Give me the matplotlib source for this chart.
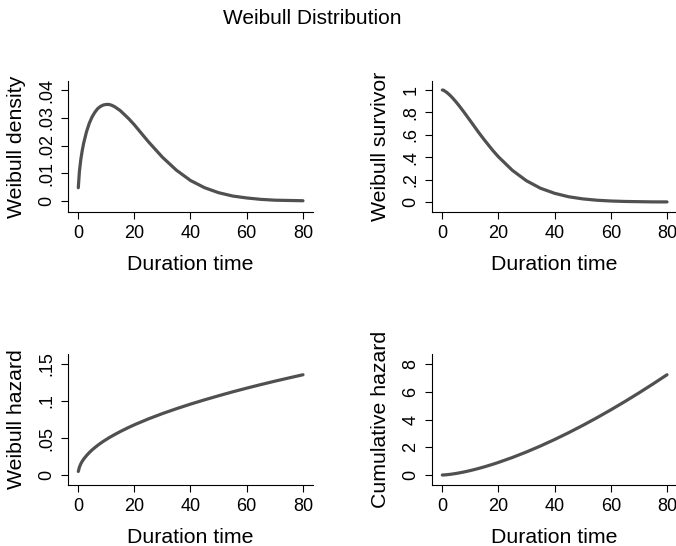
import matplotlib
matplotlib.use("Agg")
import matplotlib.pyplot as plt

plt.rcParams['font.family'] = ['Liberation Sans', 'DejaVu Sans']

# values
t = [0.1, 0.5, 1, 1.5, 2, 3, 4, 5, 6, 7, 8, 9, 10, 11, 12, 13, 15, 18, 20, 25, 30, 35,
     40, 45, 50, 55, 60, 65, 70, 75, 80]
density = [0.0048, 0.0107, 0.0150, 0.0182, 0.0208, 0.0249, 0.0280, 0.0303, 0.0320,
           0.0333, 0.0341, 0.0346, 0.0348, 0.0348, 0.0345, 0.0340, 0.0326, 0.0297,
           0.0275, 0.0214, 0.0158, 0.0111, 0.0074, 0.0048, 0.0030, 0.0018, 0.0011,
           0.0006, 0.0003, 0.0002, 0.0001]
survivor = [1.000, 0.999, 0.990, 0.982, 0.972, 0.949, 0.922, 0.893, 0.862, 0.829,
            0.796, 0.761, 0.727, 0.692, 0.657, 0.622, 0.556, 0.462, 0.405, 0.283,
            0.190, 0.123, 0.078, 0.047, 0.028, 0.016, 0.009, 0.005, 0.003, 0.001, 0.001]
hazard = [0.0048, 0.0107, 0.0152, 0.0186, 0.0214, 0.0262, 0.0303, 0.0339, 0.0371,
          0.0401, 0.0429, 0.0455, 0.0479, 0.0503, 0.0525, 0.0546, 0.0587, 0.0643,
          0.0678, 0.0758, 0.0830, 0.0896, 0.0958, 0.1016, 0.1071, 0.1124, 0.1174,
          0.1222, 0.1268, 0.1312, 0.1355]
cumhaz = [0.0003, 0.0036, 0.0101, 0.0186, 0.0286, 0.0525, 0.0808, 0.1129, 0.1485,
          0.1871, 0.2286, 0.2727, 0.3194, 0.3685, 0.4199, 0.4734, 0.5868, 0.7714,
          0.9034, 1.2626, 1.660, 2.092, 2.556, 3.049, 3.571, 4.120, 4.695, 5.293,
          5.916, 6.561, 7.228]

xticks = [0, 20, 40, 60, 80]
panels = [
    (density, "Weibull density", [0, 0.01, 0.02, 0.03, 0.04],
     ["0", ".01", ".02", ".03", ".04"], (-0.00396, 0.04324)),
    (survivor, "Weibull survivor", [0, 0.2, 0.4, 0.6, 0.8, 1],
     ["0", ".2", ".4", ".6", ".8", "1"], (-0.0893, 1.0804)),
    (hazard, "Weibull hazard", [0, 0.05, 0.1, 0.15],
     ["0", ".05", ".1", ".15"], (-0.0135, 0.1635)),
    (cumhaz, "Cumulative hazard", [0, 2, 4, 6, 8],
     ["0", "2", "4", "6", "8"], (-0.7207, 8.7207)),
]
positions = [
    [0.1006, 0.6117, 0.3624, 0.2399],
    [0.6391, 0.6117, 0.3624, 0.2399],
    [0.1006, 0.1117, 0.3624, 0.2399],
    [0.6391, 0.1117, 0.3624, 0.2399],
]

fig = plt.figure(figsize=(6.76, 5.46), dpi=100)
fig.text(0.4615, 0.967, "Weibull Distribution", ha='center', va='center', fontsize=15)

for (y, label, yt, ytl, ylim), pos in zip(panels, positions):
    ax = fig.add_axes(pos)
    ax.plot(t, y, color='#505050', linewidth=2.3, solid_capstyle='round')
    ax.set_xlim(-3.56, 83.56)
    ax.set_ylim(ylim)
    ax.set_xticks(xticks)
    ax.set_xticklabels([str(v) for v in xticks])
    ax.set_yticks(yt)
    ax.set_yticklabels(ytl, rotation=90, va='center')
    ax.spines['top'].set_visible(False)
    ax.spines['right'].set_visible(False)
    ax.spines['left'].set_linewidth(0.8)
    ax.spines['bottom'].set_linewidth(0.8)
    ax.tick_params(direction='out', length=5, width=0.8, labelsize=13, pad=4)
    ax.set_xlabel("Duration time", fontsize=15.3, labelpad=10)
    ax.set_ylabel(label, fontsize=15.3, labelpad=9)

fig.savefig("out.png", dpi=100)
